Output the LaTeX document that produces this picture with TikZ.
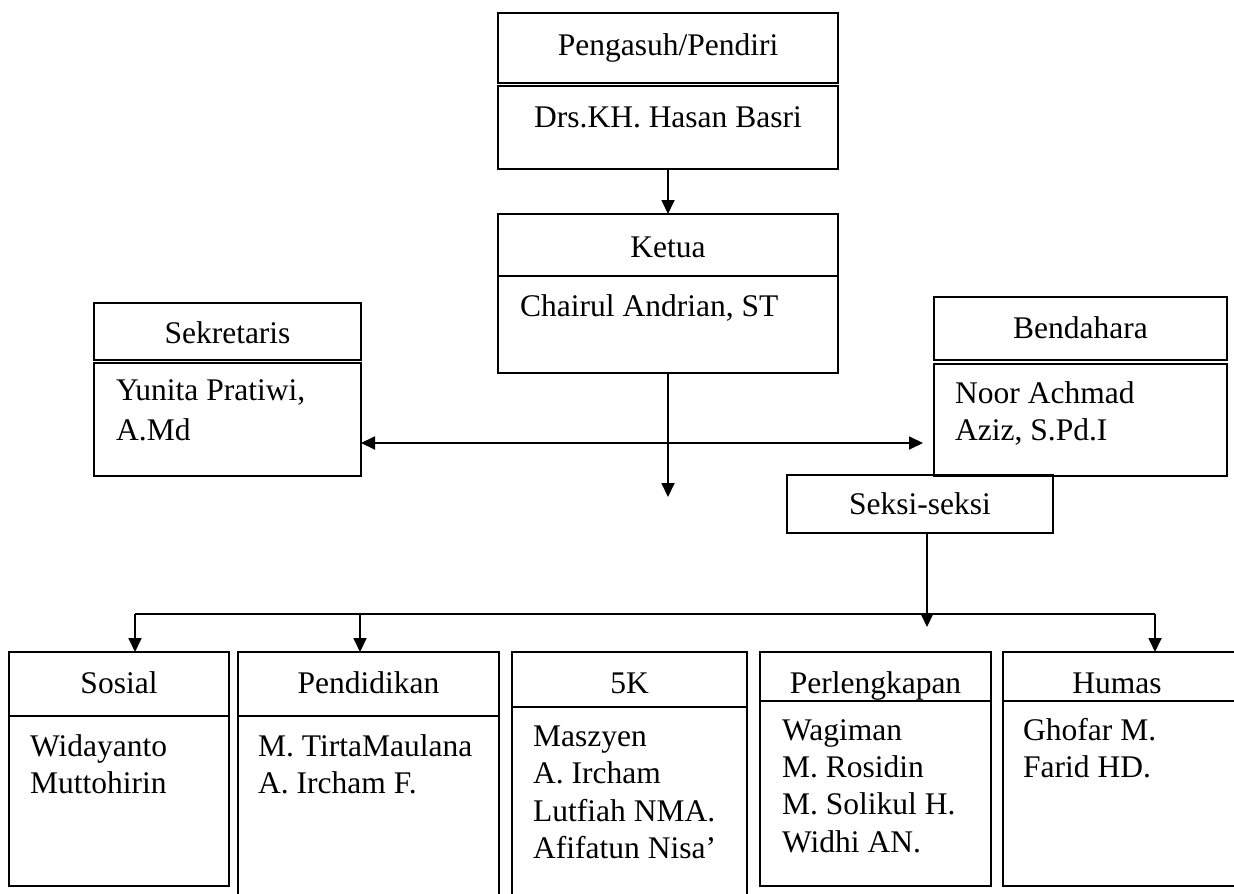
\documentclass[tikz,border=0pt]{standalone}
\usepackage{fontspec}
\setmainfont{Liberation Serif}
\usetikzlibrary{arrows.meta}
\newcommand\fsz{\fontsize{31.5}{37}\selectfont}
\newcommand\mybox[5]{\node[box, anchor=north west, minimum width=#4pt, minimum height=#5pt] (#1) at (#2,#3) {};}
\tikzset{
  box/.style={draw, line width=1.8pt, inner sep=0pt, outer sep=0pt},
  lbl/.style={inner sep=0pt, font=\fsz},
  arr/.style={-{Triangle[length=14pt,width=13pt]}, line width=1.8pt},
  dbl/.style={{Triangle[length=14pt,width=13pt]}-{Triangle[length=14pt,width=13pt]}, line width=1.8pt},
  ln/.style={line width=1.8pt}
}
\begin{document}
\begin{tikzpicture}[x=1pt,y=-1pt]
\useasboundingbox (0,0) rectangle (1234,894);
% top
\mybox{pengH}{498}{13}{340}{70}
\mybox{pengB}{498}{86}{340}{83}
\mybox{ketH}{498}{214}{340}{62}
\mybox{ketB}{498}{276}{340}{97}
\mybox{sekH}{94}{303}{267}{57}
\mybox{sekB}{94}{363}{267}{113}
\mybox{benH}{934}{297}{293}{63}
\mybox{benB}{934}{364}{293}{112}
\mybox{seksi}{787}{475}{266}{58}
% bottom
\mybox{sosH}{9}{652}{220}{64}
\mybox{sosB}{9}{716}{220}{170}
\mybox{penH}{238}{652}{261}{64}
\mybox{penB}{238}{716}{261}{200}
\mybox{kkH}{512}{652}{235}{55}
\mybox{kkB}{512}{707}{235}{210}
\mybox{perH}{760}{652}{231}{49}
\mybox{perB}{760}{701}{231}{185}
\mybox{humH}{1003}{652}{240}{49}
\mybox{humB}{1003}{701}{240}{185}
% texts
\node[lbl, anchor=base] (tpeng) at (668,55) {Pengasuh/Pendiri};
\node[lbl, anchor=base] (tpengn) at (668,127) {Drs.KH. Hasan Basri};
\node[lbl, anchor=base] (tket) at (668,257) {Ketua};
\node[lbl, anchor=base west] (tketn) at (520,316) {Chairul Andrian, ST};
\node[lbl, anchor=base] (tsek) at (227.5,343) {Sekretaris};
\node[lbl, anchor=base west] (tsek1) at (116,400) {Yunita Pratiwi,};
\node[lbl, anchor=base west] (tsek2) at (116,440) {A.Md};
\node[lbl, anchor=base] (tben) at (1080.5,338) {Bendahara};
\node[lbl, anchor=base west] (tben1) at (955,403) {Noor Achmad};
\node[lbl, anchor=base west] (tben2) at (955,440) {Aziz, S.Pd.I};
\node[lbl, anchor=base] (tseksi) at (920,514) {Seksi-seksi};
\node[lbl, anchor=base] (tsos) at (119,693) {Sosial};
\node[lbl, anchor=base west] (tsos1) at (30,756) {Widayanto};
\node[lbl, anchor=base west] (tsos2) at (30,793) {Muttohirin};
\node[lbl, anchor=base] (tpen) at (368.5,693) {Pendidikan};
\node[lbl, anchor=base west] (tpen1) at (258,756) {M. TirtaMaulana};
\node[lbl, anchor=base west] (tpen2) at (258,793) {A. Ircham F.};
\node[lbl, anchor=base] (tkk) at (629.5,693) {5K};
\node[lbl, anchor=base west] (tkk1) at (533,746) {Maszyen};
\node[lbl, anchor=base west] (tkk2) at (533,783) {A. Ircham};
\node[lbl, anchor=base west] (tkk3) at (533,821) {Lutfiah NMA.};
\node[lbl, anchor=base west] (tkk4) at (533,858) {Afifatun Nisa’};
\node[lbl, anchor=base] (tper) at (875.5,693) {Perlengkapan};
\node[lbl, anchor=base west] (tper1) at (782,740) {Wagiman};
\node[lbl, anchor=base west] (tper2) at (782,777) {M. Rosidin};
\node[lbl, anchor=base west] (tper3) at (782,814) {M. Solikul H.};
\node[lbl, anchor=base west] (tper4) at (782,852) {Widhi AN.};
\node[lbl, anchor=base] (thum) at (1117,693) {Humas};
\node[lbl, anchor=base west] (thum1) at (1023,740) {Ghofar M.};
\node[lbl, anchor=base west] (thum2) at (1023,777) {Farid HD.};
% connectors
\coordinate (hy) at (0,443);
\coordinate (benTip) at (923,443);
\coordinate (ketEnd) at (668,497);
\coordinate (sxEnd) at (927,627);
\coordinate (busL) at (135,614);
\coordinate (busM) at (360,614);
\coordinate (busR) at (1155,614);
\draw[arr] (ketH.north |- pengB.south) -- (ketH.north);
\draw[dbl] (sekB.east |- hy) -- (benTip);
\draw[arr] (ketB.south) -- (ketEnd);
\draw[arr] (seksi.south -| sxEnd) -- (sxEnd);
\draw[ln] (busL) -- (busR);
\draw[arr] (busL) -- (busL |- sosH.north);
\draw[arr] (busM) -- (busM |- penH.north);
\draw[arr] (busR) -- (busR |- humH.north);
\end{tikzpicture}
\end{document}
